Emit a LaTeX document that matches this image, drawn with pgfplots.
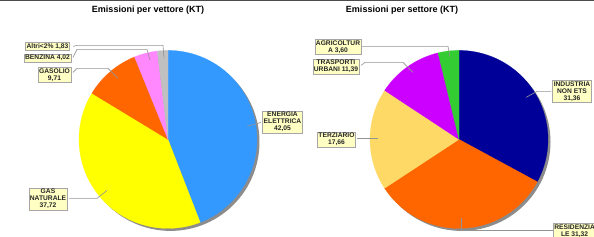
\documentclass[border=0pt]{standalone}
\usepackage{pgfplots}
\pgfplotsset{compat=1.18}
\usepackage{fontspec}
\setmainfont{Liberation Sans}
\definecolor{cEl}{RGB}{51,153,255}
\definecolor{cGas}{RGB}{255,255,0}
\definecolor{cGasolio}{RGB}{255,102,0}
\definecolor{cBenz}{RGB}{255,136,255}
\definecolor{cAltri}{RGB}{192,192,192}
\definecolor{cInd}{RGB}{0,0,153}
\definecolor{cRes}{RGB}{255,102,0}
\definecolor{cTer}{RGB}{255,217,102}
\definecolor{cTra}{RGB}{204,0,255}
\definecolor{cAgr}{RGB}{51,204,51}
\definecolor{labfill}{RGB}{255,255,196}
\definecolor{shadowc}{RGB}{140,140,140}
\tikzset{
  lab/.style={draw=gray!70, fill=labfill, inner sep=1.1pt, align=center,
    font=\fontsize{6.7}{7.2}\selectfont\bfseries, text=black!85},
  lead/.style={gray!85, line width=0.6pt},
}
\newcommand\pieinit[1]{\pgfmathsetmacro\tmptot{#1}\xdef\pietot{\tmptot}\xdef\curang{90}}
\newcommand\pieslice[5]{% cx cy r value color
  \pgfmathsetmacro\angA{\curang}%
  \pgfmathsetmacro\angB{\curang-360*#4/\pietot}%
  \edef\temp{\noexpand\addplot[draw=#5, line width=0.2pt, fill=#5, domain=\angB:\angA, samples=90, variable=\noexpand\t] ({#1+#3*cos(\noexpand\t)},{#2-#3*sin(\noexpand\t)}) -- (axis cs:#1,#2) -- cycle;}%
  \temp
  \xdef\curang{\angB}%
}
\newcommand\pieshadow[3]{%
  \addplot[draw=none, fill=shadowc, domain=0:360, samples=120, variable=\t] ({#1+#3*cos(\t)},{#2-#3*sin(\t)});
}
\begin{document}
\begin{tikzpicture}
\begin{axis}[
  width=594pt, height=241pt, scale only axis,
  xmin=0, xmax=594, ymin=0, ymax=241, y dir=reverse,
  hide axis, clip=true,
]
% top rule
\draw[black!70, line width=0.8pt] (axis cs:0,5) -- (axis cs:594,5);
% titles
\node[font=\fontsize{9}{10}\selectfont\bfseries] at (axis cs:148,15) {Emissioni per vettore (KT)};
\node[font=\fontsize{9}{10}\selectfont\bfseries] at (axis cs:402,15) {Emissioni per settore (KT)};

% ---- left pie: emissioni per vettore
\pieshadow{170.5}{146.5}{89}
\pieinit{42.05+37.72+9.71+4.02+1.83}
\pieslice{168}{144}{89}{42.05}{cEl}
\pieslice{168}{144}{89}{37.72}{cGas}
\pieslice{168}{144}{89}{9.71}{cGasolio}
\pieslice{168}{144}{89}{4.02}{cBenz}
\pieslice{168}{144}{89}{1.83}{cAltri}

% ---- right pie: emissioni per settore
\pieshadow{461.5}{146.5}{89}
\pieinit{31.36+31.32+17.66+11.39+3.60}
\pieslice{459}{144}{89}{31.36}{cInd}
\pieslice{459}{144}{89}{31.32}{cRes}
\pieslice{459}{144}{89}{17.66}{cTer}
\pieslice{459}{144}{89}{11.39}{cTra}
\pieslice{459}{144}{89}{3.60}{cAgr}

% leader lines left
\draw[lead] (axis cs:73,51) -- (axis cs:77,50) -- (axis cs:163,50) -- (axis cs:164,63);
\draw[lead] (axis cs:73,62) -- (axis cs:77,54) -- (axis cs:147,54) -- (axis cs:150,65);
\draw[lead] (axis cs:73,77) -- (axis cs:77,73) -- (axis cs:108,73) -- (axis cs:118,83);
\draw[lead] (axis cs:261,127) -- (axis cs:247,131);
\draw[lead] (axis cs:69,203) -- (axis cs:97,203) -- (axis cs:107,195);
% leader lines right
\draw[lead] (axis cs:362,51) -- (axis cs:448,51) -- (axis cs:450,62);
\draw[lead] (axis cs:361,70) -- (axis cs:365,67) -- (axis cs:403,67) -- (axis cs:413,77);
\draw[lead] (axis cs:357,143) -- (axis cs:378,143);
\draw[lead] (axis cs:551,96) -- (axis cs:537,96) -- (axis cs:526,102);
\draw[lead] (axis cs:553,235) -- (axis cs:461,235) -- (axis cs:461,223);

% labels left
\node[lab] at (axis cs:47.5,51) {Altri<2\% 1,83};
\node[lab] at (axis cs:47.5,62.5) {BENZINA 4,02};
\node[lab] at (axis cs:54.5,79.5) {GASOLIO\\9,71};
\node[lab] at (axis cs:282.5,126.5) {ENERGIA\\ELETTRICA\\42,05};
\node[lab] at (axis cs:48,203.5) {GAS\\NATURALE\\37,72};
% labels right
\node[lab] at (axis cs:338,51.5) {AGRICOLTUR\\A 3,60};
\node[lab] at (axis cs:336,71) {TRASPORTI\\URBANI 11,39};
\node[lab] at (axis cs:336.5,144) {TERZIARIO\\17,66};
\node[lab] at (axis cs:572,96) {INDUSTRIA\\NON ETS\\31,36};
\node[lab, anchor=north west] at (axis cs:553,228) {RESIDENZIA\\LE 31,32};
\end{axis}
\end{tikzpicture}
\end{document}
